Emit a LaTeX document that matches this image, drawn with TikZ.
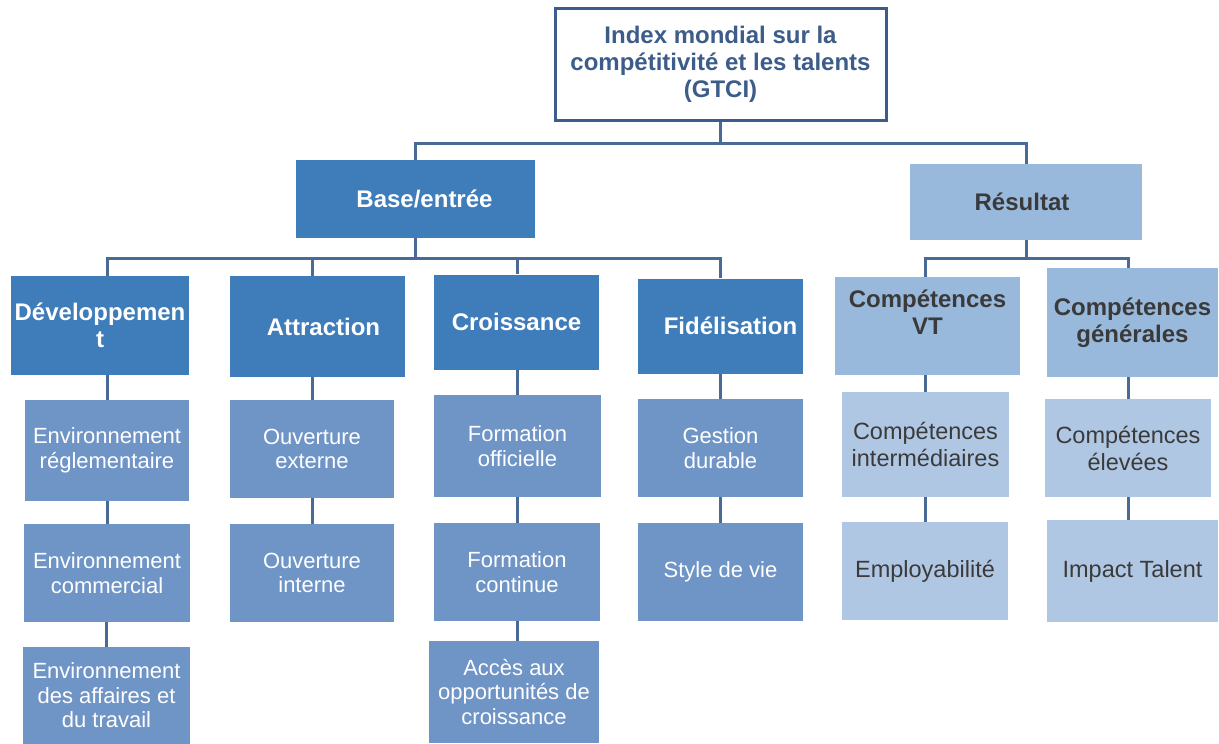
\documentclass[tikz,border=0pt]{standalone}
\usepackage{fontspec}
\setmainfont{Liberation Sans}
\definecolor{topc}{HTML}{3C5C89}
\definecolor{lvtwo}{HTML}{3F7CBA}
\definecolor{lvthree}{HTML}{6F94C6}
\definecolor{restwo}{HTML}{99B9DC}
\definecolor{resthree}{HTML}{B0C7E4}
\definecolor{linec}{HTML}{4A6A96}
\definecolor{darktxt}{HTML}{3A3A3A}
\begin{document}
\begin{tikzpicture}[x=1pt,y=-1pt,
  boxbase/.style={rectangle, inner sep=0pt, align=center},
  topbox/.style={boxbase, draw=topc, line width=3pt, fill=white, text=topc,
    font=\fontsize{24}{27}\selectfont\bfseries},
  ltwo/.style={boxbase, fill=lvtwo, text=white, font=\fontsize{24}{27.5}\selectfont\bfseries},
  lthree/.style={boxbase, fill=lvthree, text=white, font=\fontsize{22}{24.5}\selectfont},
  rtwo/.style={boxbase, fill=restwo, text=darktxt, font=\fontsize{24}{27.5}\selectfont\bfseries},
  rthree/.style={boxbase, fill=resthree, text=darktxt, font=\fontsize{23.5}{27}\selectfont},
  conn/.style={draw=linec, line width=3pt}]
\useasboundingbox (0,0) rectangle (1219,744);

% top
\node[topbox, minimum width=331, minimum height=112] (top) at (720.5,64) {Index mondial sur la\\compétitivité et les talents\\(GTCI)};

% level 1
\node[ltwo, minimum width=239, minimum height=78] (base) at (415.5,199) {\hspace*{18pt}Base/entrée};
\node[rtwo, minimum width=232, minimum height=76] (res) at (1026,202) {\hspace*{-8pt}Résultat};

% level 2
\node[ltwo, minimum width=178, minimum height=99] (dev) at (100,325.5) {Développemen\\t};
\node[ltwo, minimum width=175, minimum height=101] (att) at (317.5,326.5) {\hspace*{12pt}Attraction};
\node[ltwo, minimum width=165, minimum height=95] (cro) at (516.5,322) {Croissance};
\node[ltwo, minimum width=165, minimum height=95] (fid) at (720.5,326) {\hspace*{20pt}Fidélisation};
\node[rtwo, minimum width=185, minimum height=98] (cvt) at (927.5,326) {Compétences\\VT\\\phantom{X}};
\node[rtwo, minimum width=171, minimum height=109] (cg) at (1132.5,322.5) {Compétences\\générales};

% level 3 left
\node[lthree, minimum width=164, minimum height=101] (envr) at (107,450.5) {Environnement\\réglementaire};
\node[lthree, minimum width=166, minimum height=98] (envc) at (107,573) {Environnement\\commercial};
\node[lthree, minimum width=167, minimum height=97] (enva) at (106.5,695.5) {Environnement\\des affaires et\\du travail};
\node[lthree, minimum width=164, minimum height=98] (oext) at (312,449) {Ouverture\\externe};
\node[lthree, minimum width=164, minimum height=98] (oint) at (312,573) {Ouverture\\interne};
\node[lthree, minimum width=167, minimum height=102] (foff) at (517.5,446) {Formation\\officielle};
\node[lthree, minimum width=166, minimum height=98] (fcon) at (517,572) {Formation\\continue};
\node[lthree, minimum width=170, minimum height=102] (acc) at (514,692) {Accès aux\\opportunités de\\croissance};
\node[lthree, minimum width=165, minimum height=98] (gest) at (720.5,448) {Gestion\\durable};
\node[lthree, minimum width=165, minimum height=98] (sty) at (720.5,572) {Style de vie};

% level 3 right
\node[rthree, minimum width=167, minimum height=105] (ci) at (925.5,444.5) {Compétences\\intermédiaires};
\node[rthree, minimum width=166, minimum height=98] (emp) at (925,571) {Employabilité};
\node[rthree, minimum width=166, minimum height=98] (ce) at (1128,448) {Compétences\\élevées};
\node[rthree, minimum width=171, minimum height=102] (imp) at (1132.5,571) {Impact Talent};

% connectors
\coordinate (j1) at (720.5,143);
\coordinate (j2) at (415.5,258);
\coordinate (j3) at (1026,258);
\draw[conn] (top.south) -- (j1);
\draw[conn] (base.north) |- (j1) -| (res.north);
\draw[conn] (base.south) -- (j2);
\draw[conn] (envr.north |- dev.north) |- (j2) -| (gest.north |- fid.north);
\draw[conn] (oext.north |- att.north) |- (j2);
\draw[conn] (foff.north |- cro.north) |- (j2);
\draw[conn] (res.south) -- (j3);
\draw[conn] (ci.north |- cvt.north) |- (j3) -| (ce.north |- cg.north);

\draw[conn] (envr.north |- dev.south) -- (envr.north);
\draw[conn] (envc.north |- envr.south) -- (envc.north);
\draw[conn] (enva.north |- envc.south) -- (enva.north);
\draw[conn] (oext.north |- att.south) -- (oext.north);
\draw[conn] (oint.north |- oext.south) -- (oint.north);
\draw[conn] (foff.north |- cro.south) -- (foff.north);
\draw[conn] (fcon.north |- foff.south) -- (fcon.north);
\draw[conn] (fcon.south) -- (fcon.south |- acc.north);
\draw[conn] (gest.north |- fid.south) -- (gest.north);
\draw[conn] (sty.north |- gest.south) -- (sty.north);
\draw[conn] (ci.north |- cvt.south) -- (ci.north);
\draw[conn] (emp.north |- ci.south) -- (emp.north);
\draw[conn] (ce.north |- cg.south) -- (ce.north);
\draw[conn] (ce.south) -- (ce.south |- imp.north);
\end{tikzpicture}
\end{document}
